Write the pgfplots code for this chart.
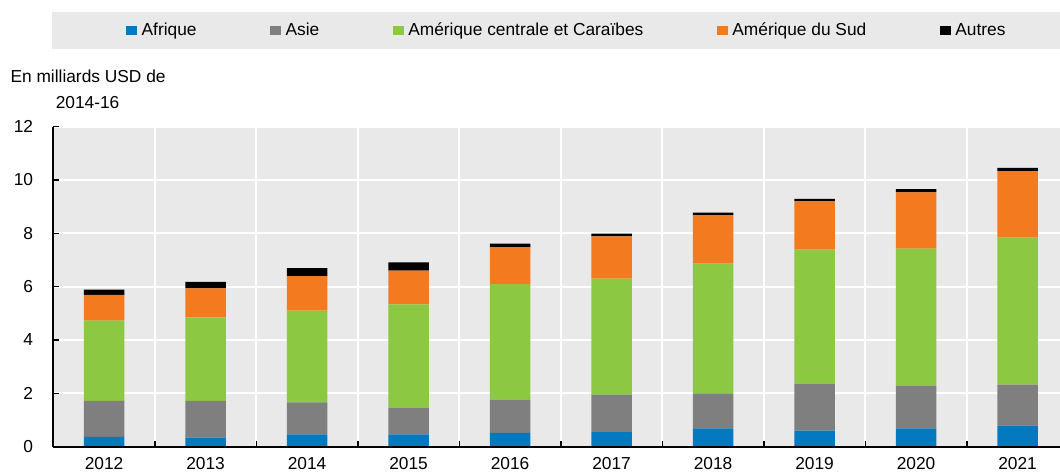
\documentclass[border=0pt]{standalone}
\usepackage{pgfplots}
\pgfplotsset{compat=1.18}
\usepackage{pgfplotstable}
\usepackage{fontspec}
\setmainfont{Liberation Sans}
\definecolor{bgc}{HTML}{E9E9E9}
\definecolor{cA}{HTML}{0479BF}
\definecolor{cB}{HTML}{7F7F7F}
\definecolor{cC}{HTML}{8CC841}
\definecolor{cD}{HTML}{F47A20}
\definecolor{cE}{HTML}{000000}
\pgfplotsset{
  layers/mylayers/.define layer set={axis background,axis grid,main,axis ticks,axis lines,axis tick labels,axis descriptions,axis foreground}{
    grid style={/pgfplots/on layer=axis grid},
    tick style={/pgfplots/on layer=axis ticks},
    axis line style={/pgfplots/on layer=axis lines},
    label style={/pgfplots/on layer=axis descriptions},
    legend style={/pgfplots/on layer=axis descriptions},
    title style={/pgfplots/on layer=axis descriptions},
    ticklabel style={/pgfplots/on layer=axis tick labels},
    axis background@ style={/pgfplots/on layer=axis background},
  },
}
\pgfplotstableread{
x A As G O Au
0 0.37 1.35 3.01 0.96 0.20
1 0.34 1.38 3.13 1.09 0.24
2 0.46 1.20 3.44 1.30 0.30
3 0.46 1.00 3.88 1.26 0.31
4 0.52 1.24 4.34 1.37 0.14
5 0.55 1.40 4.35 1.59 0.10
6 0.69 1.29 4.88 1.82 0.10
7 0.60 1.76 5.03 1.81 0.09
8 0.69 1.60 5.14 2.11 0.12
9 0.79 1.54 5.51 2.49 0.12
}\data
\begin{document}
\fontsize{13pt}{15.6pt}\selectfont
\begin{tikzpicture}
\begin{axis}[
  set layers=mylayers,
  clip=false,
  scale only axis,
  width=755pt, height=240pt,
  xmin=-0.5, xmax=9.418,
  ymin=0, ymax=12,
  ybar stacked, bar width=30.4pt,
  axis background/.style={fill=bgc},
  axis x line*=bottom, axis y line*=left,
  axis line style={black, line width=1.5pt, -},
  xtick={0,...,9},
  xticklabels={2012,2013,2014,2015,2016,2017,2018,2019,2020,2021},
  minor xtick={0.5,1.5,...,8.5},
  major x tick style={draw=none},
  xminorgrids=true,
  ytick={0,2,...,12},
  ymajorgrids=true,
  major grid style={white, line width=1.5pt},
  minor grid style={white, line width=1.5pt},
  tick align=inside,
  xtick pos=bottom, ytick pos=left,
  major tick length=4.5pt, minor tick length=4.5pt,
  tick style={black, line width=1.2pt},
  /pgf/number format/assume math mode=true,
  ticklabel style={font=\fontsize{13pt}{15.6pt}\selectfont},
  xticklabel style={inner sep=0pt, anchor=north, yshift=-7.5pt},
  yticklabel style={inner sep=0pt, anchor=east, xshift=-15pt},
  legend columns=5,
  legend style={draw=none, fill=none, inner sep=0pt, outer sep=0pt,
    at={(axis description cs:0.0722,1.3006)}, anchor=west,
    nodes={inner sep=0pt, font=\fontsize{13pt}{15.6pt}\selectfont},
    /tikz/every odd column/.append style={column sep=3.5pt},
    /tikz/every even column/.append style={column sep=55pt}},
  leg/.style={legend image code/.code={\fill[##1] (0pt,-3.4pt) rectangle (8.25pt,3.4pt);}},
]
\fill[bgc] (axis description cs:-0.0016,1.2438) rectangle (axis description cs:1,1.3575);
\node[anchor=base, inner sep=0pt] at (axis description cs:0.0345,1.1366) {En milliards USD de};
\node[anchor=base, inner sep=0pt] at (axis description cs:0.0340,1.0553) {2014-16};
\addplot[fill=cA, draw=none, leg] table[x=x,y=A] {\data};
\addlegendentry{Afrique}
\addplot[fill=cB, draw=none, leg] table[x=x,y=As] {\data};
\addlegendentry{Asie}
\addplot[fill=cC, draw=none, leg] table[x=x,y=G] {\data};
\addlegendentry{Amérique centrale et Caraïbes}
\addplot[fill=cD, draw=none, leg] table[x=x,y=O] {\data};
\addlegendentry{Amérique du Sud}
\addplot[fill=cE, draw=none, leg] table[x=x,y=Au] {\data};
\addlegendentry{Autres}
\end{axis}
\pgfresetboundingbox
\path[use as bounding box] (-40pt,-19pt) rectangle (755pt,335pt);
\end{tikzpicture}
\end{document}
